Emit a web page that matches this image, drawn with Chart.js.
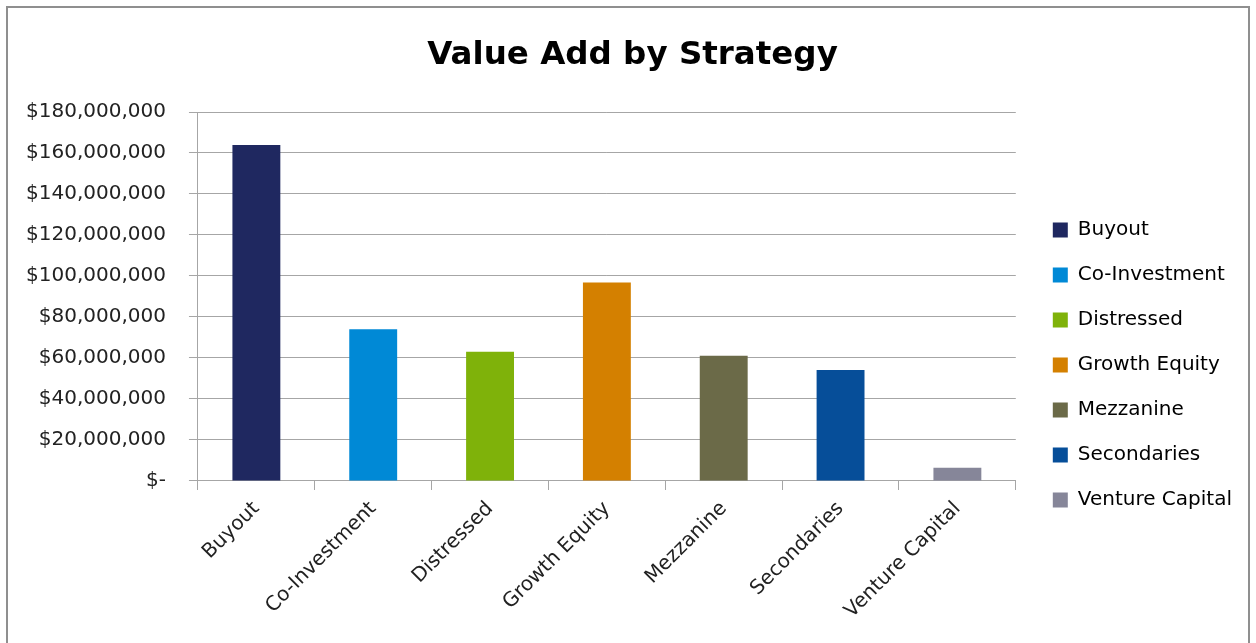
<!DOCTYPE html>
<html lang="en">
<head>
  <meta charset="UTF-8">
  <title>Value Add by Strategy</title>
  <script src="https://cdn.jsdelivr.net/npm/chart.js"></script>
  <style>
    html, body { margin: 0; padding: 0; background: #fff; }
    #wrap { position: relative; width: 1256px; height: 643px; overflow: hidden; }
    #frame { position: absolute; left: 6px; top: 6px; width: 1240px; height: 700px; border: 2px solid #8f8f8f; }
    #chart { position: absolute; left: 0; top: 0; }
  </style>
</head>
<body>
  <div id="wrap">
    <div id="frame"></div>
    <canvas id="chart" width="1256" height="643"></canvas>
  </div>

  <script>
    // Data
    const strategies = ['Buyout', 'Co-Investment', 'Distressed', 'Growth Equity', 'Mezzanine', 'Secondaries', 'Venture Capital'];
    const valueAdd = [163900000, 74000000, 63000000, 96800000, 61100000, 54100000, 6500000];
    const barColors = ['#1f2860', '#0089d6', '#7fb20a', '#d48000', '#6b6a48', '#064e99', '#868699'];

    const FONT = "'DejaVu Sans', sans-serif";
    const LEGEND_GAP = 12;    // extra room between plot and legend
    const LEGEND_DROP = 32;   // legend sits lower than chart.js centres it
    const TITLE_SHIFT = 10;   // title is centred on the canvas, not the plot

    // format like Excel accounting: $180,000,000 and $- for zero
    function money(v) {
      if (v === 0) return '$-';
      return '$' + v.toLocaleString('en-US');
    }

    // small layout nudges chart.js has no option for
    const nudges = {
      id: 'nudges',
      afterInit(chart) {
        const lg = chart.legend;
        const fit = lg.fit.bind(lg);
        lg.fit = function () { fit(); this.width += LEGEND_GAP; };
      },
      afterLayout(chart) {
        const lg = chart.legend;
        lg.left += LEGEND_GAP;
        lg.top += LEGEND_DROP;
        lg.bottom += LEGEND_DROP;
        chart.titleBlock.left += TITLE_SHIFT;
        chart.titleBlock.right += TITLE_SHIFT;
      }
    };

    new Chart(document.getElementById('chart'), {
      type: 'bar',
      data: {
        labels: strategies,
        datasets: [{
          label: 'Value Add',
          data: valueAdd,
          backgroundColor: barColors,
          borderWidth: 0,
          categoryPercentage: 0.82,
          barPercentage: 0.5
        }]
      },
      options: {
        responsive: false,
        animation: false,
        layout: { padding: { left: 3, right: 14, top: 36, bottom: 13 } },
        plugins: {
          title: {
            display: true,
            text: 'Value Add by Strategy',
            color: '#000',
            font: { family: FONT, size: 32.5, weight: 'bold' },
            padding: { top: 0, bottom: 37 }
          },
          legend: {
            position: 'right',
            labels: {
              font: { family: FONT, size: 20 },
              color: '#222',
              boxWidth: 15,
              boxHeight: 15,
              padding: 25,
              generateLabels(chart) {
                return strategies.map((s, i) => ({
                  text: s,
                  fillStyle: barColors[i],
                  strokeStyle: barColors[i],
                  lineWidth: 0,
                  index: i
                }));
              }
            }
          },
          tooltip: { enabled: false }
        },
        scales: {
          x: {
            grid: { display: true, drawOnChartArea: false, offset: true, color: '#a6a6a6', tickLength: 9 },
            border: { color: '#a6a6a6' },
            ticks: {
              font: { family: FONT, size: 20 },
              color: '#222',
              minRotation: 45,
              maxRotation: 45,
              padding: 7
            }
          },
          y: {
            min: 0,
            max: 180000000,
            grid: { color: '#a6a6a6', tickLength: 9 },
            border: { color: '#a6a6a6' },
            ticks: {
              stepSize: 20000000,
              font: { family: FONT, size: 20 },
              color: '#222',
              padding: 23,
              callback: v => money(v)
            }
          }
        }
      },
      plugins: [nudges]
    });
  </script>
</body>
</html>
